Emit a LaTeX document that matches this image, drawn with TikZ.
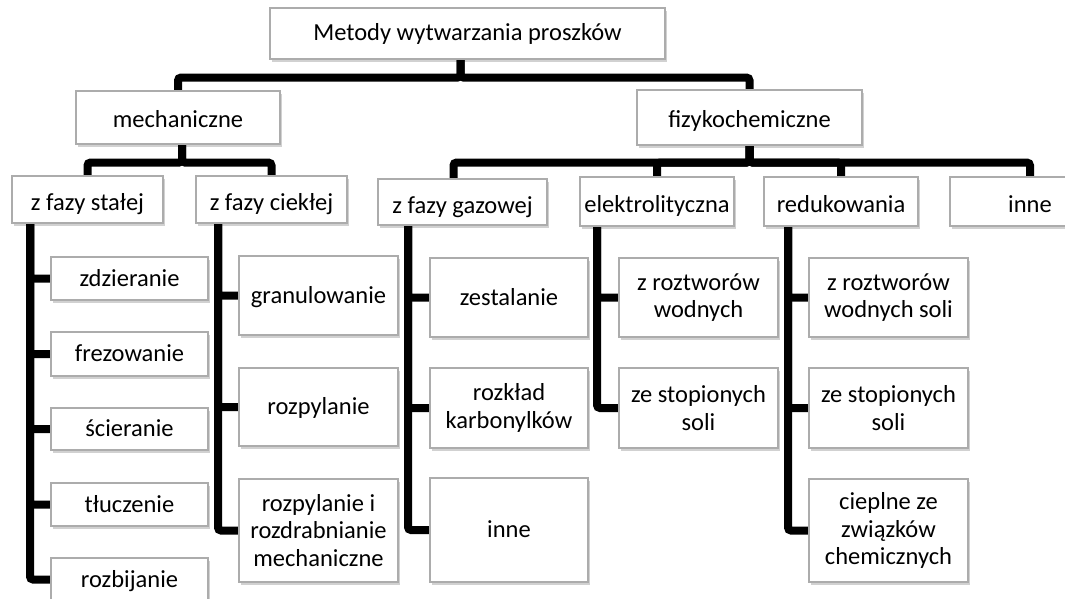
\documentclass[tikz,border=0pt]{standalone}
\usepackage{fontspec}
\setmainfont{Carlito}
\usetikzlibrary{shadows,backgrounds}
\definecolor{boxline}{RGB}{172,172,172}
\tikzset{
  box/.style={draw=boxline, line width=1.1pt, fill=white, inner sep=0pt, align=center,
    font=\fontsize{24.5}{27.5}\selectfont,
    drop shadow={shadow xshift=1.5pt, shadow yshift=-3pt, fill=black, opacity=0.18}},
  lvzero/.style={box, text height=17pt, text depth=4pt},
  lvone/.style={box, text height=19pt, text depth=0pt},
  lvtwo/.style={box, text height=22pt, text depth=0pt},
  leaf/.style={box, text height=16pt, text depth=1pt},
  conn/.style={line width=8pt, black, rounded corners=3pt},
}
\begin{document}
\begin{tikzpicture}[x=1pt,y=-1pt]
\useasboundingbox (0,0) rectangle (1065,598);
\clip (0,0) rectangle (1065,598);
% level 0 and 1
\node[lvzero, minimum width=395pt, minimum height=51pt] (top) at (467.5,33.5) {Metody wytwarzania proszków};
\node[lvone, minimum width=204pt, minimum height=53pt] (mech) at (178,117.5) {mechaniczne};
\node[lvone, minimum width=225pt, minimum height=55pt] (fizy) at (749.5,117.5) {fizykochemiczne};
% level 2
\node[lvtwo, minimum width=151pt, minimum height=47pt] (stal) at (87.5,199.5) {z fazy stałej};
\node[lvtwo, minimum width=151pt, minimum height=47pt] (ciek) at (271.5,199.5) {z fazy ciekłej};
\node[lvtwo, minimum width=169pt, minimum height=46pt] (gaz) at (462.5,202) {z fazy gazowej};
\node[lvtwo, minimum width=154pt, minimum height=49pt] (elek) at (657,201.5) {elektrolityczna};
\node[lvtwo, minimum width=154pt, minimum height=49pt] (red) at (841,201.5) {redukowania};
\node[lvtwo, minimum width=160pt, minimum height=49pt] (inne1) at (1030,201.5) {inne};
% z fazy stałej
\node[leaf, minimum width=157pt, minimum height=43pt] (zdz) at (129.5,278.5) {zdzieranie};
\node[leaf, minimum width=157pt, minimum height=44pt] (frez) at (129.5,354) {frezowanie};
\node[leaf, minimum width=157pt, minimum height=42pt] (scier) at (129.5,429) {ścieranie};
\node[leaf, minimum width=157pt, minimum height=43pt] (tlu) at (129.5,504.5) {tłuczenie};
\node[leaf, minimum width=157pt, minimum height=43pt] (rozb) at (129.5,579.5) {rozbijanie};
% z fazy ciekłej
\node[leaf, minimum width=159pt, minimum height=79pt] (gran) at (318.5,295.5) {granulowanie};
\node[leaf, minimum width=159pt, minimum height=78pt] (rozp) at (318.5,407) {rozpylanie};
\node[box, minimum width=159pt, minimum height=103pt] (rozpi) at (318.5,530.5) {rozpylanie i\\rozdrabnianie\\mechaniczne};
% z fazy gazowej
\node[leaf, minimum width=158pt, minimum height=79pt] (zest) at (509,297.5) {zestalanie};
\node[box, minimum width=158pt, minimum height=80pt] (rozk) at (509,408) {rozkład\\karbonylków};
\node[leaf, minimum width=158pt, minimum height=104pt] (inne2) at (509,530) {inne};
% elektrolityczna
\node[box, minimum width=159pt, minimum height=79pt] (ztw) at (698.5,297.5) {z roztworów\\wodnych};
\node[box, minimum width=159pt, minimum height=80pt] (zst) at (698.5,408) {ze stopionych\\soli};
% redukowania
\node[box, minimum width=159pt, minimum height=79pt] (ztws) at (888.5,297.5) {z roztworów\\wodnych soli};
\node[box, minimum width=159pt, minimum height=80pt] (zsts) at (888.5,408) {ze stopionych\\soli};
\node[box, minimum width=159pt, minimum height=103pt] (ciep) at (888.5,530.5) {cieplne ze\\związków\\chemicznych};
% x positions of the vertical spines
\coordinate (sx) at (30,0);
\coordinate (cx) at (218,0);
\coordinate (gx) at (408,0);
\coordinate (ex) at (597,0);
\coordinate (rx) at (788,0);
\begin{scope}[on background layer]
  \draw[conn] ([xshift=-7pt]top.south) -- ++(0,18) -| (mech.north);
  \draw[conn] ([xshift=-7pt]top.south) -- ++(0,18) -| (fizy.north);
  \draw[conn] ([xshift=4pt]mech.south) -- ++(0,18) -| (stal.north);
  \draw[conn] ([xshift=4pt]mech.south) -- ++(0,18) -| (ciek.north);
  \draw[conn] (fizy.south) -- ++(0,17) -| ([xshift=-9pt]gaz.north);
  \draw[conn] (fizy.south) -- ++(0,17) -| (elek.north);
  \draw[conn] (fizy.south) -- ++(0,17) -| (red.north);
  \draw[conn] (fizy.south) -- ++(0,17) -| (inne1.north);
  \foreach \c in {zdz,frez,scier,tlu,rozb} \draw[conn] (stal.south -| sx) |- (\c.west);
  \foreach \c in {gran,rozp,rozpi} \draw[conn] (ciek.south -| cx) |- (\c.west);
  \foreach \c in {zest,rozk,inne2} \draw[conn] (gaz.south -| gx) |- (\c.west);
  \foreach \c in {ztw,zst} \draw[conn] (elek.south -| ex) |- (\c.west);
  \foreach \c in {ztws,zsts,ciep} \draw[conn] (red.south -| rx) |- (\c.west);
\end{scope}
\end{tikzpicture}
\end{document}
